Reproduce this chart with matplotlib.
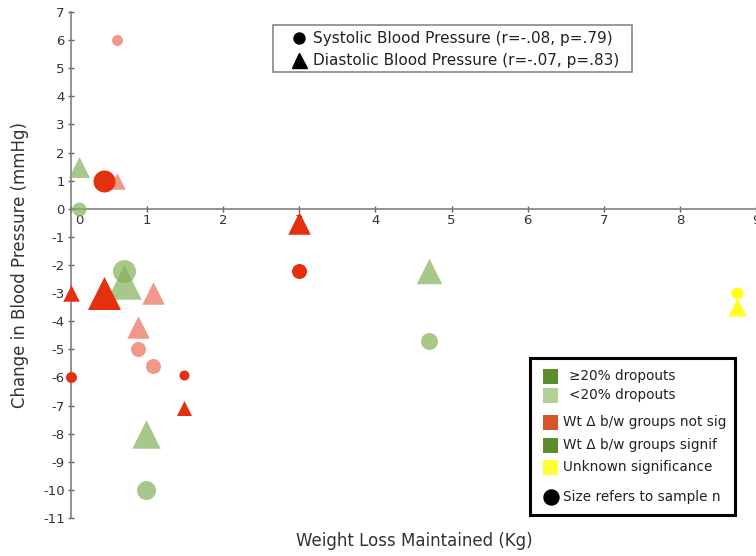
import matplotlib
matplotlib.use('agg')
import matplotlib.pyplot as plt
import matplotlib.transforms as mtrans
from matplotlib.patches import Rectangle
from matplotlib.lines import Line2D

# -------------------- data --------------------
# one entry per study: weight loss kept, change in SBP, change in DBP
wt_loss = [0.61, 0.44, 0.10, 0.69, 0.00, 1.08, 0.88, 1.49, 0.99, 3.00, 4.70, 8.75]
d_sbp = [6.0, 1.0, 0.0, -2.2, -6.0, -5.6, -5.0, -5.9, -10.0, -2.2, -4.7, -3.0]
d_dbp = [1.0, -3.0, 1.5, -2.6, -3.0, -3.0, -4.2, -7.1, -8.0, -0.5, -2.2, -3.5]
# ns = wt diff not sig, sig = wt diff signif, unk = unknown; hi/lo = dropouts >=20% / <20%
group = ['ns_lo', 'ns_hi', 'sig_lo', 'sig_lo', 'ns_hi', 'ns_lo',
         'ns_lo', 'ns_hi', 'sig_lo', 'ns_hi', 'sig_lo', 'unk']
# marker diameter (px) ~ sample n
n_size = [11, 22, 14, 23, 11, 15, 15, 10, 19, 15, 17, 12]

x_ticks = list(range(0, 10))
y_ticks = list(range(-11, 8))

legend_top = ['Systolic Blood Pressure (r=-.08, p=.79)',
              'Diastolic Blood Pressure (r=-.07, p=.83)']
legend_key = ['\u226520% dropouts', '<20% dropouts',
              'Wt \u0394 b/w groups not sig', 'Wt \u0394 b/w groups signif',
              'Unknown significance', 'Size refers to sample n']

# -------------------- style --------------------
W, H = 756, 556
COLORS = {'ns_hi': ('#e5300e', 1.0), 'ns_lo': ('#f0998a', 1.0),
          'sig_lo': ('#84b059', 0.7), 'unk': ('#ffff1a', 1.0)}
ZORD = {'sig_lo': 3, 'ns_lo': 4, 'ns_hi': 5, 'unk': 5}
KEY_COLORS = ['#5b8e2a', '#b3d097', '#d4542c', '#5b8e2a', '#ffff38']
TRI = 1.5  # triangles drawn wider than circles

plt.rcParams['font.family'] = ['DejaVu Sans']
plt.rcParams['axes.unicode_minus'] = False


def fig_xy(px, py):
    # pixel coords (top-left origin) -> figure fraction
    return px / W, 1 - py / H


fig = plt.figure(figsize=(W / 100, H / 100), dpi=100)
ax = fig.add_axes([71 / W, 1 - 518 / H, (W - 71) / W, (518 - 12) / H])

pt = 72 / 100  # px -> pt
for i in range(len(wt_loss)):
    c, a = COLORS[group[i]]
    z = ZORD[group[i]]
    ax.scatter(wt_loss[i], d_sbp[i], s=(n_size[i] * pt) ** 2, marker='o',
               color=c, alpha=a, linewidths=0, zorder=z, clip_on=False)
    ax.scatter(wt_loss[i], d_dbp[i], s=(n_size[i] * TRI * pt) ** 2, marker='^',
               color=c, alpha=a, linewidths=0, zorder=z, clip_on=False)

ax.set_xlim(0, 9)
ax.set_ylim(-11, 7)
ax.set_xticks(x_ticks)
ax.set_yticks(y_ticks)
ax.spines['top'].set_visible(False)
ax.spines['right'].set_visible(False)
ax.spines['bottom'].set_position(('data', 0))
for sp in ['left', 'bottom']:
    ax.spines[sp].set_color('#808080')
    ax.spines[sp].set_linewidth(1.2)
ax.tick_params(direction='inout', length=4, width=1, color='#606060',
               labelsize=9.5, labelcolor='#333333')
ax.tick_params(axis='y', pad=2.5)
ax.tick_params(axis='x', pad=1.5)
# the "0" label sits a little right of the y axis
lab0 = ax.get_xticklabels()[0]
lab0.set_transform(lab0.get_transform() +
                   mtrans.ScaledTranslation(8 / 100, 0, fig.dpi_scale_trans))

fig.text(20 / W, 1 - 265 / H, 'Change in Blood Pressure (mmHg)', rotation=90,
         ha='center', va='center', fontsize=12, color='#333333')
fig.text(414 / W, 1 - 541 / H, 'Weight Loss Maintained (Kg)',
         ha='center', va='center', fontsize=12, color='#333333')

# -------------------- top legend (marker shapes) --------------------
x0, y0 = fig_xy(273, 72)
x1, y1 = fig_xy(632, 25)
fig.patches.append(Rectangle((x0, y0), x1 - x0, y1 - y0, transform=fig.transFigure,
                             facecolor='white', edgecolor='#888888', lw=1.2, zorder=10))
for j, (mk, ms, yy) in enumerate([('o', 11, 38), ('^', 15, 60)]):
    fig.add_artist(Line2D([299 / W], [1 - yy / H], marker=mk, markersize=ms * pt,
                          color='black', linestyle='none', transform=fig.transFigure,
                          zorder=11))
    fig.text(313 / W, 1 - yy / H, legend_top[j], ha='left', va='center',
             fontsize=11, color='#222222', zorder=11)

# -------------------- key box (colours, size) --------------------
x0, y0 = fig_xy(530, 515)
x1, y1 = fig_xy(735, 358)
fig.patches.append(Rectangle((x0, y0), x1 - x0, y1 - y0, transform=fig.transFigure,
                             facecolor='white', edgecolor='black', lw=2.2, zorder=10))
row_y = [376, 395, 422, 445, 467]
row_tx = [569, 569, 563, 563, 563]
for j, yy in enumerate(row_y):
    sx, sy = fig_xy(543, yy + 7.5)
    fig.patches.append(Rectangle((sx, sy), 15 / W, 15 / H, transform=fig.transFigure,
                                 facecolor=KEY_COLORS[j], edgecolor='none', zorder=11))
    fig.text(row_tx[j] / W, 1 - yy / H, legend_key[j], ha='left', va='center',
             fontsize=9.8, color='#222222', zorder=11)
fig.add_artist(Line2D([551 / W], [1 - 497 / H], marker='o', markersize=15 * pt,
                      color='black', linestyle='none', transform=fig.transFigure,
                      zorder=11))
fig.text(563 / W, 1 - 497 / H, legend_key[5], ha='left', va='center',
         fontsize=9.8, color='#222222', zorder=11)

fig.savefig('out.png', dpi=100)
